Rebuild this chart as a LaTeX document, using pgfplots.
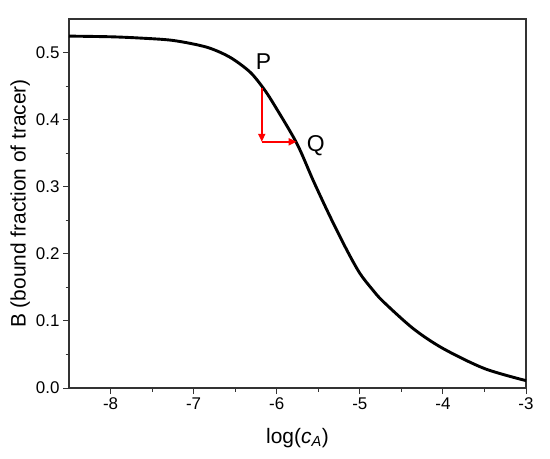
\documentclass[border=0pt]{standalone}
\usepackage{fontspec}
\setmainfont{Liberation Sans}
\usepackage{pgfplots}
\pgfplotsset{compat=1.18}
\usetikzlibrary{arrows.meta}
\begin{document}
\begin{tikzpicture}
\begin{axis}[
    scale only axis,
    width=457bp, height=369bp,
    xmin=-8.5, xmax=-3,
    ymin=0, ymax=0.55,
    xtick={-8,-7,-6,-5,-4,-3},
    ytick={0,0.1,0.2,0.3,0.4,0.5},
    minor tick num=1,
    xtick pos=bottom, ytick pos=left,
    tick align=outside,
    major tick length=6bp, minor tick length=3.5bp,
    axis line style={black!80, line width=1.1bp},
    every tick/.style={black!80, line width=1bp},
    /pgf/number format/assume math mode=true,
    yticklabel style={/pgf/number format/fixed, /pgf/number format/fixed zerofill, /pgf/number format/precision=1},
    ticklabel style={font=\fontsize{17}{20}\selectfont},
    xlabel={log(\textit{c}\textsubscript{\textit{A}})},
    ylabel={B (bound fraction of tracer)},
    label style={font=\fontsize{21}{25}\selectfont},
    xlabel style={at={(axis description cs:0.5,-0.15)}, anchor=base},
    ylabel style={at={(axis description cs:-0.107,0.5)}, anchor=center},
    clip=false
]
\addplot[black, line width=2.9bp, smooth]
coordinates{(-8.5,0.5245)(-8,0.5235)(-7.645,0.5216)(-7.245,0.518)(-6.843,0.508)
(-6.563,0.493)(-6.322,0.471)(-6.162,0.447)(-6.04,0.424)(-5.76,0.365)(-5.56,0.309)
(-5.36,0.256)(-5.158,0.206)(-5.0,0.171)(-4.85,0.147)(-4.72,0.129)(-4.357,0.0885)
(-4,0.059)(-3.5,0.029)(-3,0.011)};
\addplot[red, line width=1.8bp, -{Triangle[length=8bp,width=7bp]}]
coordinates{(-6.18,0.447)(-6.18,0.367)};
\addplot[red, line width=1.8bp, -{Triangle[length=8bp,width=7bp]}]
coordinates{(-6.18,0.367)(-5.76,0.367)};
\node[font=\fontsize{23}{27}\selectfont] at (axis cs:-6.16,0.486) {P};
\node[font=\fontsize{23}{27}\selectfont] at (axis cs:-5.53,0.361) {Q};
\end{axis}
\path ([xshift=-69bp,yshift=-70.3bp]current axis.south west) rectangle ([xshift=24bp,yshift=19bp]current axis.north east);
\end{tikzpicture}
\end{document}
